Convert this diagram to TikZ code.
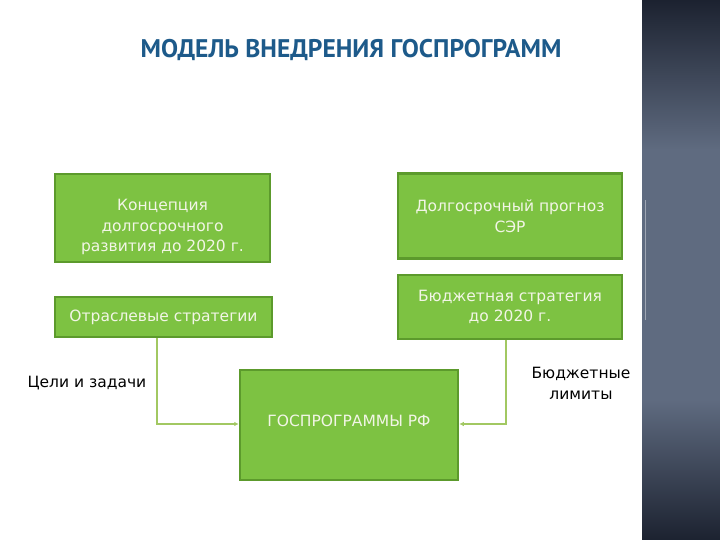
\documentclass[tikz,border=0pt]{standalone}
\usepackage{fontspec}
\setmainfont{DejaVu Sans}
\newfontfamily\titlefont{PT Sans}
\usetikzlibrary{arrows.meta}
\definecolor{boxfill}{HTML}{7DC242}
\definecolor{boxline}{HTML}{5C9A2C}
\definecolor{boxtext}{HTML}{F2F5E6}
\definecolor{linkcol}{HTML}{A2C862}
\definecolor{titlecol}{HTML}{1D5A8A}
\definecolor{stripdark}{HTML}{1C2230}
\definecolor{stripmid}{HTML}{5F6B80}
\begin{document}
\begin{tikzpicture}[x=1pt,y=-1pt,
  gbox/.style={draw=boxline,line width=2.5pt,fill=boxfill,text=boxtext,align=center,
    font=\fontsize{15.5}{20.5}\selectfont,inner sep=0pt},
  btext/.style={text=boxtext,align=center,font=\fontsize{15.5}{20.5}\selectfont,inner sep=0pt},
  lbl/.style={align=center,font=\fontsize{15.5}{21}\selectfont,text=black},
  link/.style={draw=linkcol,line width=1.3pt,-{Latex[length=4.5pt,width=4.5pt]}}]
\useasboundingbox (0,0) rectangle (720,540);
\fill[white] (0,0) rectangle (720,540);
% right strip
\shade[top color=stripdark,bottom color=stripmid] (642,0) rectangle (720,150);
\fill[stripmid] (642,149) rectangle (720,401);
\shade[top color=stripmid,bottom color=stripdark] (642,400) rectangle (720,540);
\draw[stripmid!60!white,line width=0.8pt] (645.5,200) -- (645.5,320);
% title
\node[font=\titlefont\bfseries\fontsize{25.5}{30}\selectfont,text=titlecol] (title) at (351,50) {МОДЕЛЬ ВНЕДРЕНИЯ ГОСПРОГРАММ};
% boxes
\node[gbox,minimum width=215pt,minimum height=88pt] (konc) at (162.5,218) {};
\node[btext] (konctext) at (162.5,227) {Концепция\\долгосрочного\\развития до 2020 г.};
\node[gbox,minimum width=224pt,minimum height=85pt] (prog) at (510,216) {Долгосрочный прогноз\\СЭР};
\node[gbox,minimum width=224pt,minimum height=64pt] (budg) at (510,307) {Бюджетная стратегия\\до 2020 г.};
\node[gbox,minimum width=217pt,minimum height=40pt] (otr) at (163.5,317) {Отраслевые стратегии};
\node[gbox,minimum width=218pt,minimum height=110pt] (gos) at (349,425) {};
\node[btext] (gostext) at (349,421) {ГОСПРОГРАММЫ РФ};
% labels
\node[lbl] (celi) at (87,383) {Цели и задачи};
\node[lbl] (lim) at (581,383) {Бюджетные\\лимиты};
% connectors
\coordinate (c1) at (157,424);
\coordinate (c2) at (506,424);
\draw[link] (otr.south -| c1) -- (c1) -- (gos.west |- c1);
\draw[link] (budg.south -| c2) -- (c2) -- (gos.east |- c2);
\end{tikzpicture}
\end{document}
